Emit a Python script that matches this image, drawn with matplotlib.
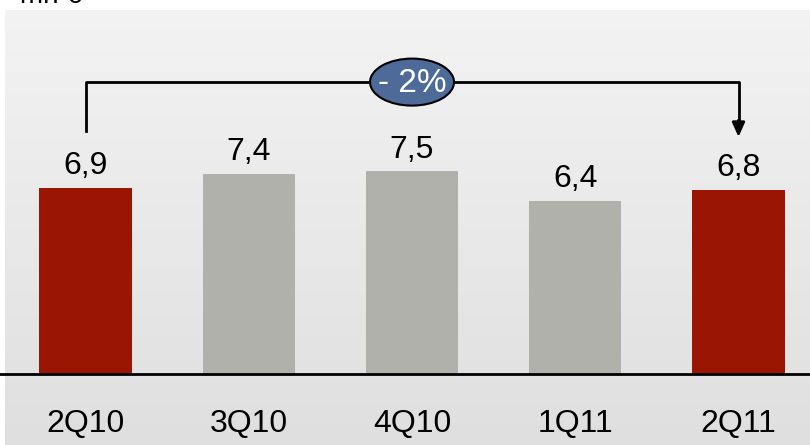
import numpy as np
import matplotlib.pyplot as plt
from matplotlib.patches import Ellipse

quarters = ['2Q10', '3Q10', '4Q10', '1Q11', '2Q11']
values = [6.9, 7.4, 7.5, 6.4, 6.8]
labels = ['6,9', '7,4', '7,5', '6,4', '6,8']
change_label = '- 2%'
unit_label = 'mn €'

red = '#9b1503'
grey = '#b1b1ab'
colors = [red, grey, grey, grey, red]

plt.rcParams['font.family'] = ['Liberation Sans', 'DejaVu Sans']

fig = plt.figure(figsize=(8.1, 4.45), dpi=100)
fig.patch.set_facecolor('white')

# Background gradient panel
bg = fig.add_axes([5 / 810, 0, 1 - 5 / 810, 1 - 10 / 445])
grad = np.linspace(0.952, 0.875, 256).reshape(-1, 1)
bg.imshow(np.dstack([grad, grad, grad]), aspect='auto', extent=[0, 1, 0, 1])
bg.axis('off')

# Main axes: baseline at y=374 px
ax = fig.add_axes([0, 71 / 445, 1, 1 - 10 / 445 - 71 / 445])
ax.patch.set_alpha(0)
x = np.arange(len(quarters))
ax.bar(x, values, width=0.565, color=colors, zorder=2)
ax.set_xlim(-0.524, 4.438)
ax.set_ylim(0, 13.48)

for xi, v, lab in zip(x, values, labels):
    ax.annotate(lab, (xi, v), xytext=(0, 5), textcoords='offset points',
                ha='center', va='bottom', fontsize=23, color='black')

for s in ['top', 'right', 'left']:
    ax.spines[s].set_visible(False)
ax.spines['bottom'].set_linewidth(2)
ax.spines['bottom'].set_color('black')
ax.set_yticks([])
ax.set_xticks(x)
ax.set_xticklabels(quarters, fontsize=23)
ax.tick_params(axis='x', length=0, pad=25)

# Bracket with arrow
y_top = 10.81
ax.plot([x[0], x[0], x[-1], x[-1]], [9.0, y_top, y_top, 9.35],
        color='black', lw=2, clip_on=False, zorder=3)
ax.annotate('', xy=(x[-1], 8.78), xytext=(x[-1], 9.4),
            arrowprops=dict(arrowstyle='-|>,head_width=0.38,head_length=0.85',
                            color='black', lw=2, shrinkA=0, shrinkB=0))

# Ellipse with change label
ell = Ellipse((2, y_top), width=84 / 163.25, height=47 / 27,
              facecolor='#4d6a99', edgecolor='black', lw=1.5, zorder=4)
ax.add_patch(ell)
ax.text(2, y_top - 0.05, change_label, ha='center', va='center', color='white',
        fontsize=24, zorder=5)

fig.text(0.025, 1 - 3 / 445, unit_label, fontsize=20, va='baseline', ha='left')

fig.savefig('out.png', dpi=100)
